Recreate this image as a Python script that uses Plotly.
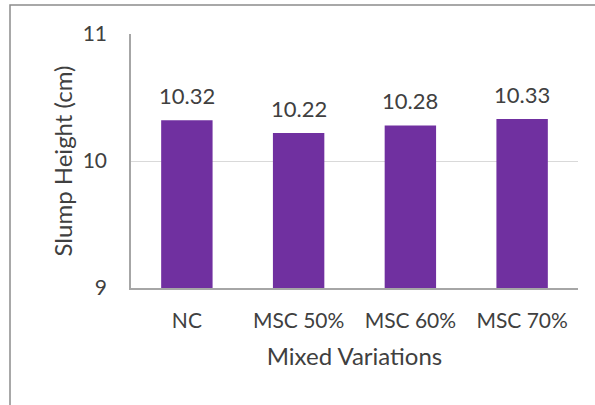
import plotly.graph_objects as go

categories = ["NC", "MSC 50%", "MSC 60%", "MSC 70%"]
slump_height = [10.32, 10.22, 10.28, 10.33]
y_ticks = [9, 10, 11]

FONT = "Lato, Open Sans, sans-serif"
TEXT = "#404040"
BAR = "#7030A0"

fig = go.Figure(
    go.Bar(
        x=categories,
        y=slump_height,
        marker=dict(color=BAR, line=dict(width=0)),
        hoverinfo="x+y",
    )
)

# value labels above each bar
for cat, val in zip(categories, slump_height):
    fig.add_annotation(
        x=cat, y=val, text=f"{val:.2f}", showarrow=False,
        yanchor="bottom", yshift=9,
        font=dict(family=FONT, size=22, color=TEXT),
    )

fig.update_layout(
    width=595, height=405,
    margin=dict(l=131, r=17, t=34, b=117),
    paper_bgcolor="white", plot_bgcolor="white",
    bargap=0.54,
    showlegend=False,
    font=dict(family=FONT, color=TEXT),
    shapes=[dict(
        type="rect", xref="paper", yref="paper",
        x0=-121 / 447, x1=1.2, y0=-0.6, y1=1 + 29 / 254,
        line=dict(color="#8c8c8c", width=1.5), layer="below",
    )],
)

fig.update_xaxes(
    showline=True, linecolor="#a6a6a6", linewidth=1.5,
    ticks="", tickfont=dict(family=FONT, size=21, color=TEXT),
    ticklabelstandoff=13,
    title=dict(text="Mixed Variations", font=dict(family=FONT, size=24, color=TEXT), standoff=17),
)
fig.update_yaxes(
    range=[9, 11], tickvals=y_ticks,
    showline=True, linecolor="#a6a6a6", linewidth=1.5,
    showgrid=True, gridcolor="#d9d9d9", gridwidth=1,
    ticks="", ticklabelstandoff=18,
    tickfont=dict(family=FONT, size=21, color=TEXT),
    title=dict(text="Slump Height (cm)", font=dict(family=FONT, size=24, color=TEXT), standoff=3),
    zeroline=False,
)

fig.write_html("out.html")
